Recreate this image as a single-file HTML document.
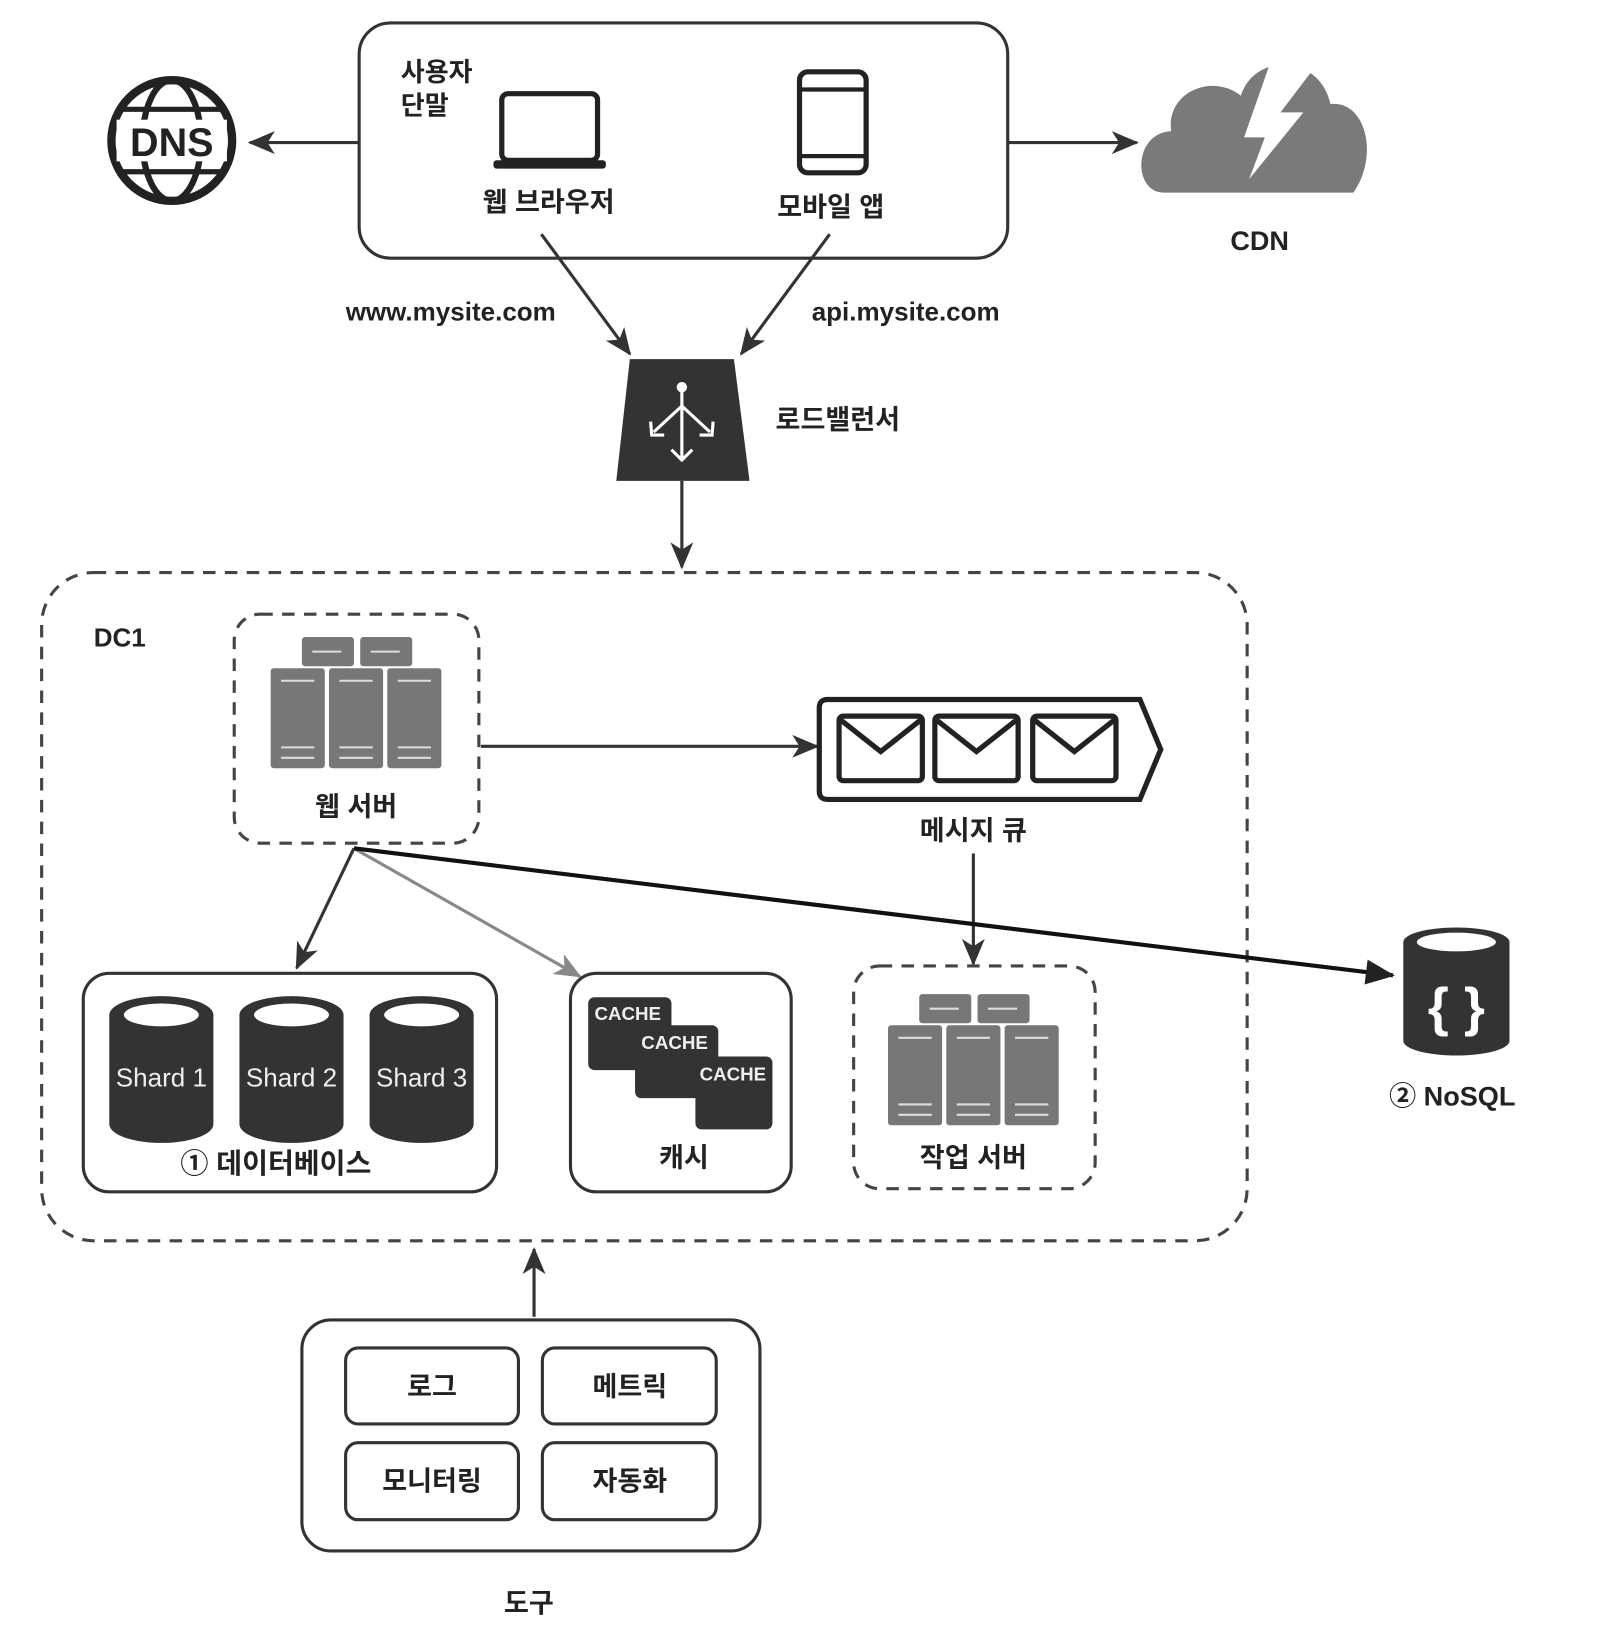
<!DOCTYPE html>
<html><head><meta charset="utf-8"><style>
html,body{margin:0;padding:0;background:#fff;}
svg{display:block;}
text{font-family:"Liberation Sans","Noto Sans CJK KR",sans-serif;fill:#222;font-weight:bold;}
</style></head><body>
<svg width="1624" height="1628" viewBox="0 0 1560 1564" preserveAspectRatio="none" xmlns="http://www.w3.org/2000/svg">
<defs>
<marker id="ahb" markerWidth="26" markerHeight="22" refX="24" refY="11" orient="auto" markerUnits="userSpaceOnUse"><path d="M0,0 L26,11 L0,22 L7,11 z" fill="#333"/></marker>
<marker id="ahg" markerWidth="26" markerHeight="22" refX="24" refY="11" orient="auto" markerUnits="userSpaceOnUse"><path d="M0,0 L26,11 L0,22 L7,11 z" fill="#888"/></marker>
<marker id="aht" markerWidth="28" markerHeight="24" refX="26" refY="12" orient="auto" markerUnits="userSpaceOnUse"><path d="M0,0 L28,12 L0,24 z" fill="#222"/></marker>
<g id="srv">
<rect x="-52" y="-78" width="50" height="28" rx="3" fill="#777"/><rect x="4" y="-78" width="50" height="28" rx="3" fill="#777"/>
<rect x="-82" y="-48" width="52" height="96" rx="3" fill="#777"/><rect x="-26" y="-48" width="52" height="96" rx="3" fill="#777"/><rect x="30" y="-48" width="52" height="96" rx="3" fill="#777"/>
<g stroke="#ddd" stroke-width="2"><line x1="-42" y1="-64" x2="-14" y2="-64"/><line x1="14" y1="-64" x2="42" y2="-64"/>
<line x1="-72" y1="-36" x2="-40" y2="-36"/><line x1="-16" y1="-36" x2="16" y2="-36"/><line x1="40" y1="-36" x2="72" y2="-36"/>
<line x1="-72" y1="28" x2="-40" y2="28"/><line x1="-16" y1="28" x2="16" y2="28"/><line x1="40" y1="28" x2="72" y2="28"/>
<line x1="-72" y1="38" x2="-40" y2="38"/><line x1="-16" y1="38" x2="16" y2="38"/><line x1="40" y1="38" x2="72" y2="38"/></g>
</g>
<g id="cyl"><path d="M-50,-55 L-50,50 A50,18 0 0 0 50,50 L50,-55 z" fill="#333"/><ellipse cx="0" cy="-55" rx="50" ry="18" fill="#333"/><ellipse cx="0" cy="-55" rx="36" ry="11" fill="#fff"/></g>
</defs>

<rect x="345" y="22" width="623" height="226" rx="30" fill="none" stroke="#333" stroke-width="3"/>
<text x="385" y="78" font-size="25">사용자</text><text x="385" y="110" font-size="25">단말</text>
<rect x="482" y="90" width="92" height="64" rx="6" fill="none" stroke="#222" stroke-width="5"/>
<rect x="474" y="154" width="108" height="8" rx="3" fill="#222"/>
<text x="527" y="203" font-size="26" text-anchor="middle">웹 브라우저</text>
<rect x="768" y="69" width="64" height="97" rx="8" fill="none" stroke="#222" stroke-width="5"/>
<line x1="768" y1="86" x2="832" y2="86" stroke="#222" stroke-width="4"/><line x1="768" y1="150" x2="832" y2="150" stroke="#222" stroke-width="4"/>
<text x="798" y="208" font-size="26" text-anchor="middle">모바일 앱</text>
<circle cx="165" cy="135" r="58" fill="none" stroke="#222" stroke-width="8"/>
<ellipse cx="165" cy="135" rx="28" ry="58" fill="none" stroke="#222" stroke-width="6"/>
<line x1="115" y1="105" x2="215" y2="105" stroke="#222" stroke-width="5"/><line x1="115" y1="165" x2="215" y2="165" stroke="#222" stroke-width="5"/>
<rect x="112" y="115" width="106" height="40" fill="#fff"/>
<text x="165" y="150" font-size="38" text-anchor="middle">DNS</text>
<line x1="345" y1="137" x2="240" y2="137" stroke="#333" stroke-width="3" marker-end="url(#ahb)"/>
<line x1="968" y1="137" x2="1092" y2="137" stroke="#333" stroke-width="3" marker-end="url(#ahb)"/>
<path d="M1118,185 C1088,185 1088,128 1125,126 C1120,88 1165,70 1192,92 C1205,50 1268,52 1278,100 C1312,96 1325,150 1300,185 z" fill="#7a7a7a"/>
<path d="M1222,55 L1195,132 L1215,132 L1200,172 L1252,108 L1230,108 L1265,62 L1280,82 L1285,55 z" fill="#fff"/>
<text x="1210" y="240" font-size="26" text-anchor="middle">CDN</text>
<line x1="520" y1="225" x2="605" y2="340" stroke="#333" stroke-width="3" marker-end="url(#ahb)"/>
<line x1="797" y1="225" x2="712" y2="340" stroke="#333" stroke-width="3" marker-end="url(#ahb)"/>
<text x="433" y="308" font-size="25" text-anchor="middle">www.mysite.com</text>
<text x="870" y="308" font-size="25" text-anchor="middle">api.mysite.com</text>
<path d="M605,345 L705,345 L720,462 L592,462 z" fill="#333"/>
<g stroke="#fff" stroke-width="3" fill="none"><line x1="655" y1="372" x2="655" y2="440"/><line x1="655" y1="390" x2="628" y2="415"/><line x1="655" y1="390" x2="682" y2="415"/>
<path d="M625,405 L626,418 L638,418"/><path d="M685,405 L684,418 L672,418"/><path d="M645,432 L655,442 L665,432"/></g>
<circle cx="655" cy="372" r="5" fill="#fff"/>
<text x="745" y="412" font-size="26">로드밸런서</text>
<line x1="655" y1="462" x2="655" y2="545" stroke="#333" stroke-width="3" marker-end="url(#ahb)"/>
<rect x="40" y="550" width="1158" height="642" rx="50" fill="none" stroke="#444" stroke-width="3" stroke-dasharray="12,9"/>
<text x="90" y="621" font-size="25">DC1</text>
<rect x="225" y="590" width="235" height="220" rx="25" fill="none" stroke="#444" stroke-width="3" stroke-dasharray="12,9"/>
<use href="#srv" x="342" y="690"/>
<text x="342" y="784" font-size="26" text-anchor="middle">웹 서버</text>
<line x1="462" y1="717" x2="785" y2="717" stroke="#333" stroke-width="3" marker-end="url(#ahb)"/>
<path d="M795,672 L1095,672 L1115,720 L1095,768 L795,768 Q787,768 787,760 L787,680 Q787,672 795,672 z" fill="none" stroke="#222" stroke-width="5"/>
<g fill="none" stroke="#222" stroke-width="5">
<rect x="806" y="688" width="80" height="62" rx="4"/><path d="M808,692 L846,722 L884,692"/>
<rect x="898" y="688" width="80" height="62" rx="4"/><path d="M900,692 L938,722 L976,692"/>
<rect x="992" y="688" width="80" height="62" rx="4"/><path d="M994,692 L1032,722 L1070,692"/></g>
<text x="935" y="807" font-size="26" text-anchor="middle">메시지 큐</text>
<line x1="935" y1="820" x2="935" y2="926" stroke="#333" stroke-width="3" marker-end="url(#ahb)"/>
<rect x="820" y="928" width="232" height="214" rx="25" fill="none" stroke="#444" stroke-width="3" stroke-dasharray="12,9"/>
<use href="#srv" x="935" y="1033"/>
<text x="935" y="1121" font-size="26" text-anchor="middle">작업 서버</text>
<line x1="340" y1="815" x2="285" y2="930" stroke="#333" stroke-width="3" marker-end="url(#ahb)"/>
<line x1="340" y1="815" x2="557" y2="938" stroke="#888" stroke-width="3" marker-end="url(#ahg)"/>
<line x1="340" y1="815" x2="1338" y2="937" stroke="#111" stroke-width="4" marker-end="url(#aht)"/>
<rect x="80" y="935" width="397" height="210" rx="25" fill="none" stroke="#333" stroke-width="3"/>
<use href="#cyl" x="155" y="1030"/><use href="#cyl" x="280" y="1030"/><use href="#cyl" x="405" y="1030"/>
<text x="155" y="1044" font-size="25" text-anchor="middle" style="fill:#eee;font-weight:normal">Shard 1</text>
<text x="280" y="1044" font-size="25" text-anchor="middle" style="fill:#eee;font-weight:normal">Shard 2</text>
<text x="405" y="1044" font-size="25" text-anchor="middle" style="fill:#eee;font-weight:normal">Shard 3</text>
<text x="265" y="1127" font-size="27" text-anchor="middle">① 데이터베이스</text>
<rect x="548" y="935" width="212" height="210" rx="25" fill="none" stroke="#333" stroke-width="3"/>
<rect x="565" y="958" width="80" height="70" rx="6" fill="#333"/>
<rect x="610" y="985" width="80" height="70" rx="6" fill="#333"/>
<rect x="668" y="1015" width="74" height="70" rx="6" fill="#333"/>
<text x="603" y="980" font-size="18" text-anchor="middle" style="fill:#eee">CACHE</text>
<text x="648" y="1008" font-size="18" text-anchor="middle" style="fill:#eee">CACHE</text>
<text x="704" y="1038" font-size="18" text-anchor="middle" style="fill:#eee">CACHE</text>
<text x="657" y="1121" font-size="26" text-anchor="middle">캐시</text>
<path d="M1348,905 L1348,1000 A51,14 0 0 0 1450,1000 L1450,905 z" fill="#333"/>
<ellipse cx="1399" cy="905" rx="51" ry="14" fill="#333"/><ellipse cx="1399" cy="905" rx="38" ry="9" fill="#fff"/>
<text x="1399" y="985" font-size="52" text-anchor="middle" style="fill:#fff">{ }</text>
<text x="1395" y="1062" font-size="26" text-anchor="middle">② NoSQL</text>
<line x1="513" y1="1265" x2="513" y2="1200" stroke="#333" stroke-width="3" marker-end="url(#ahb)"/>
<rect x="290" y="1268" width="440" height="222" rx="28" fill="none" stroke="#333" stroke-width="3"/>
<g fill="none" stroke="#333" stroke-width="3">
<rect x="332" y="1295" width="166" height="73" rx="12"/><rect x="521" y="1295" width="167" height="73" rx="12"/>
<rect x="332" y="1386" width="166" height="74" rx="12"/><rect x="521" y="1386" width="167" height="74" rx="12"/></g>
<text x="415" y="1341" font-size="26" text-anchor="middle">로그</text>
<text x="605" y="1341" font-size="26" text-anchor="middle">메트릭</text>
<text x="415" y="1432" font-size="26" text-anchor="middle">모니터링</text>
<text x="605" y="1432" font-size="26" text-anchor="middle">자동화</text>
<text x="508" y="1549" font-size="26" text-anchor="middle">도구</text>
</svg>
</body></html>
